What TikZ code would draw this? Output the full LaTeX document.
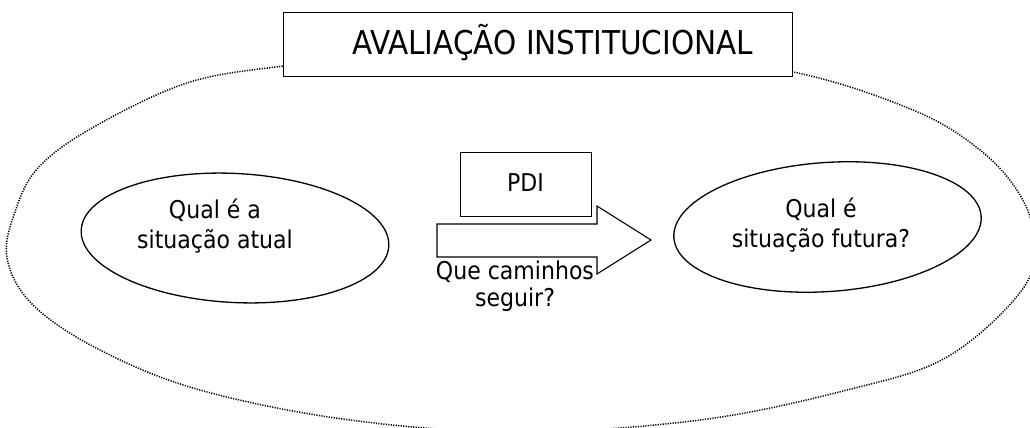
\documentclass[tikz,border=0pt]{standalone}
\usepackage{fontspec}
\setmainfont{DejaVu Sans Condensed}
\usetikzlibrary{shapes.geometric}
\begin{document}
\begin{tikzpicture}[x=1pt,y=-1pt,
  box/.style={draw,line width=1.1pt,fill=white,inner sep=0pt},
  oval/.style={draw,ellipse,line width=1.3pt,fill=white,inner sep=0pt,minimum width=308pt,minimum height=129pt},
  outer/.style={line width=1.5pt,dash pattern=on 1.2pt off 1.3pt},
  txt/.style={font=\fontsize{24.5}{30}\selectfont,align=center,inner sep=0pt},
  ttl/.style={font=\fontsize{32.8}{38}\selectfont,inner sep=0pt}]
\useasboundingbox (0,0) rectangle (1030,428);
\fill[white] (0,0) rectangle (1030,428);
% outer dotted boundary
\draw[outer] plot[smooth cycle,tension=0.6] coordinates {
 (520,50) (650,57) (793,72) (913,110) (980,150) (1020,195) (1034,240) (1022,290)
 (947,357) (847,390) (700,420) (520,432) (350,420) (200,390) (100,350) (33,305)
 (7,258) (15,212) (38,168) (92,128) (187,83) (283,66) (400,54)};
% title
\node[box,minimum width=509pt,minimum height=64pt,anchor=north west] (title) at (283,12) {};
\node[ttl,anchor=base west] (titletext) at (352,55) {AVALIAÇÃO INSTITUCIONAL};
% ellipses
\node[oval,rotate=-3] (now) at (235,238) {};
\node[oval,rotate=4] (future) at (827.5,227) {};
% PDI box
\node[box,minimum width=131pt,minimum height=64pt,anchor=north west] (pdi) at (460,152) {};
\node[txt,anchor=base] (pditext) at (525.5,191) {PDI};
% arrow
\draw[box] (437,224) coordinate (a1) -- (597,224) -- (597,206) -- (651,240) coordinate (tip)
  -- (597,274) -- (597,257) -- (437,257) -- cycle;
% texts
\node[txt] (nowtext) at (215,226) {Qual é a\\situação atual};
\node[txt] (futuretext) at (821,225) {Qual é\\situação futura?};
\node[txt,font=\fontsize{24.5}{27}\selectfont] (paths) at (515,286) {Que caminhos\\seguir?};
\end{tikzpicture}
\end{document}
